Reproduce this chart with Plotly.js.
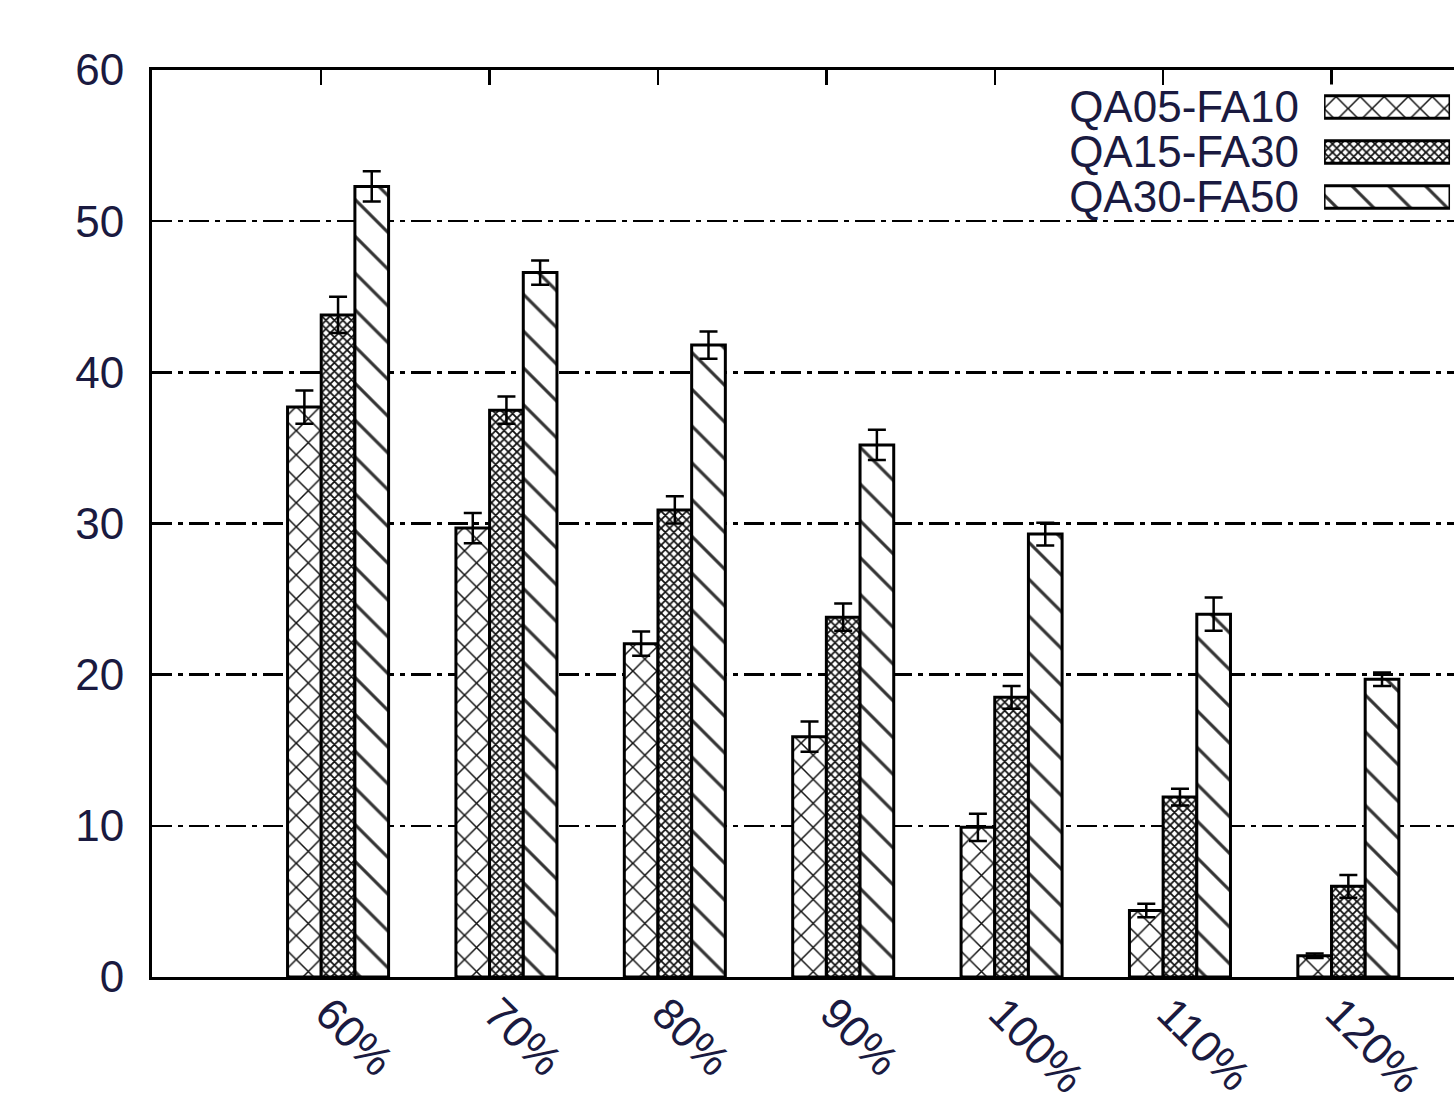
<!DOCTYPE html>
<html>
<head>
<meta charset="utf-8">
<script src="https://cdn.plot.ly/plotly-3.0.1.min.js"></script>
<style>
html, body { margin: 0; padding: 0; overflow: hidden; background: #fff; }
#chart { width: 1500px; height: 1200px; }
</style>
</head>
<body>
<div id="chart"></div>
<script>
const categories = ["60%", "70%", "80%", "90%", "100%", "110%", "120%"];
const seriesNames = ["QA05-FA10", "QA15-FA30", "QA30-FA50"];
const qa05 = [37.7, 29.7, 22.05, 15.9, 9.9, 4.4, 1.4];
const qa05Err = [1.1, 1.0, 0.8, 1.0, 0.9, 0.45, 0.15];
const qa15 = [43.8, 37.5, 30.9, 23.8, 18.5, 11.9, 6.0];
const qa15Err = [1.2, 0.9, 0.9, 0.9, 0.75, 0.55, 0.75];
const qa30 = [52.3, 46.6, 41.8, 35.2, 29.3, 24.0, 19.7];
const qa30Err = [1.0, 0.8, 0.9, 1.0, 0.75, 1.1, 0.45];
const yTicks = [0, 10, 20, 30, 40, 50, 60];
const xTitle = "Workload";

const values = [qa05, qa15, qa30];
const errs = [qa05Err, qa15Err, qa30Err];
const patterns = [
  {shape: "x", size: 17, solidity: 0.17, fgcolor: "#111", bgcolor: "#fff", fillmode: "replace"},
  {shape: "x", size: 6, solidity: 0.5, fgcolor: "#111", bgcolor: "#fff", fillmode: "replace"},
  {shape: "\\", size: 26, solidity: 0.12, fgcolor: "#333", bgcolor: "#fff", fillmode: "replace"}
];
const idx = categories.map((_, i) => i);
const font = {family: "Liberation Sans, Arial, sans-serif", size: 44, color: "#1a1a40"};

const traces = [];
seriesNames.forEach((name, s) => {
  traces.push({
    type: "bar", name: name, x: idx, y: values[s], offsetgroup: "g" + s,
    marker: {color: "#fff", pattern: patterns[s], line: {color: "#000", width: 3}},
    error_y: {type: "data", array: errs[s], visible: true, color: "#000", thickness: 2.5, width: 9},
    showlegend: false, hoverinfo: "skip"
  });
});
// legend keys drawn as small bars in an overlay axis
seriesNames.forEach((name, s) => {
  traces.push({
    type: "bar", orientation: "h", name: name, y: [name], x: [1], base: 0,
    xaxis: "x2", yaxis: "y2", offsetgroup: "legend", width: 0.5,
    marker: {color: "#fff", pattern: patterns[s], line: {color: "#000", width: 3}},
    showlegend: false, hoverinfo: "skip"
  });
});

const layout = {
  width: 1500, height: 1200,
  margin: {l: 152, r: 22, t: 70, b: 223},
  paper_bgcolor: "#fff", plot_bgcolor: "#fff",
  font: font,
  barmode: "group", bargap: 0.4, bargroupgap: 0,
  showlegend: false,
  xaxis: {
    range: [-1.105, 6.77], tickmode: "array",
    tickvals: idx.map(i => i - 0.1), ticktext: categories,
    tickangle: 45, ticks: "inside", ticklen: 15, tickwidth: 2.5, tickcolor: "#000",
    showline: true, linecolor: "#000", linewidth: 3, mirror: "ticks",
    showgrid: false, zeroline: false, tickfont: font,
    ticklabelstandoff: -10, ticklabelshift: 7,
    title: {text: xTitle, font: font, standoff: 16}
  },
  yaxis: {
    range: [0, 60], tickmode: "array", tickvals: yTicks,
    ticks: "inside", ticklen: 15, tickwidth: 2.5, tickcolor: "#000",
    showline: true, linecolor: "#000", linewidth: 3, mirror: "ticks",
    showgrid: true, gridcolor: "#000", gridwidth: 2.5, griddash: "20px,6px,5px,6px",
    zeroline: false, tickfont: font, ticklabelstandoff: 16
  },
  xaxis2: {
    domain: [0.8839, 0.9789], range: [0, 1], anchor: "y2",
    showgrid: false, zeroline: false, showline: false, showticklabels: false, ticks: ""
  },
  yaxis2: {
    domain: [0.8352, 0.984], anchor: "x2", type: "category",
    categoryorder: "array", categoryarray: seriesNames, autorange: "reversed",
    tickmode: "array", tickvals: seriesNames, ticktext: seriesNames,
    showgrid: false, zeroline: false, showline: false, ticks: "",
    tickfont: font, ticklabelstandoff: 24
  }
};

Plotly.newPlot("chart", traces, layout, {displayModeBar: false, staticPlot: true});
</script>
</body>
</html>
